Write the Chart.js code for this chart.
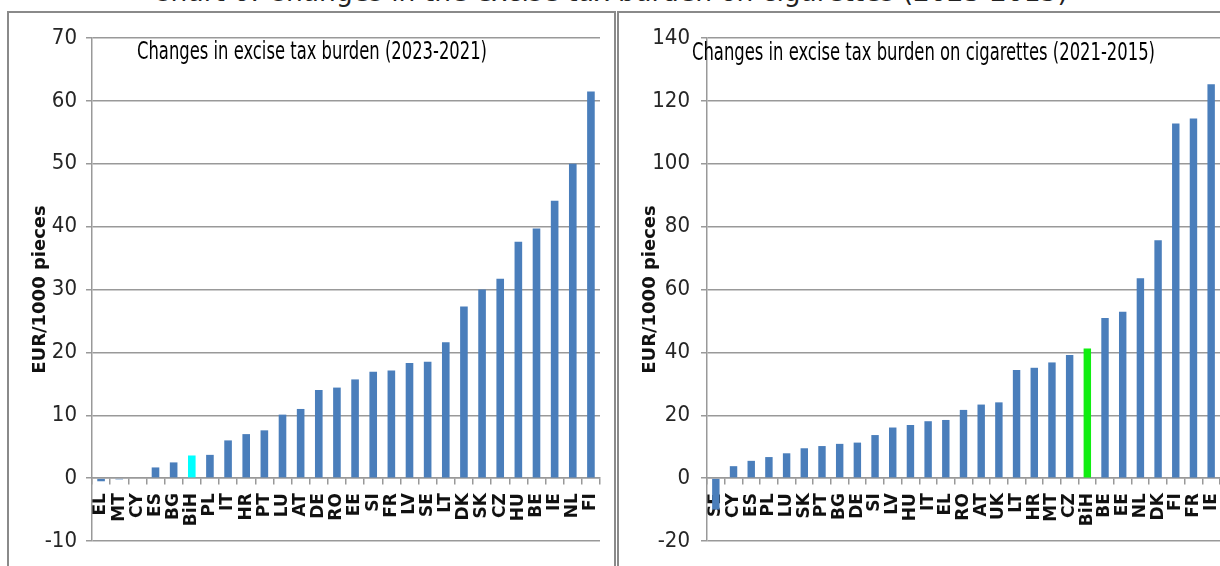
<!DOCTYPE html>
<html lang="en">
<head>
<meta charset="UTF-8">
<title>Chart 6: Changes in the excise tax burden on cigarettes</title>
<script src="https://cdn.jsdelivr.net/npm/chart.js"></script>
<style>
	body { margin: 0; width: 1220px; height: 566px; overflow: hidden; background: #fff; position: relative; }
	#pageTitle { position: absolute; left: 0; top: -21px; width: 1220px; text-align: center; font: 26.5px/26.5px "DejaVu Sans", Verdana, sans-serif; color: #222; white-space: nowrap; }
	.box { position: absolute; top: 11px; height: 570px; border: 2px solid #8a8a8a; overflow: hidden; }
	#leftBox { left: 7px; width: 605px; }
	#rightBox { left: 617px; width: 610px; }
	canvas { position: absolute; left: 0; top: 0; }
</style>
</head>
<body>
	<div id="pageTitle">Chart 6: Changes in the excise tax burden on cigarettes (2023-2015)</div>
	<div class="box" id="leftBox"><canvas id="leftChart" width="605" height="553"></canvas></div>
	<div class="box" id="rightBox"><canvas id="rightChart" width="605" height="553"></canvas></div>

	<script>
		// left panel: 2023-2021
		const leftLabels = ['EL','MT','CY','ES','BG','BiH','PL','IT','HR','PT','LU','AT','DE','RO','EE','SI','FR','LV','SE','LT','DK','SK','CZ','HU','BE','IE','NL','FI'];
		const leftValues = [-0.5,-0.2,0,1.7,2.5,3.6,3.7,6.0,7.0,7.6,10.1,11.0,14.0,14.4,15.7,16.9,17.1,18.3,18.5,21.6,27.3,30.0,31.7,37.6,39.7,44.1,50.0,61.5];
		const leftTitle = 'Changes in excise tax burden (2023-2021)';

		// right panel: 2021-2015
		const rightLabels = ['SE','CY','ES','PL','LU','SK','PT','BG','DE','SI','LV','HU','IT','EL','RO','AT','UK','LT','HR','MT','CZ','BiH','BE','EE','NL','DK','FI','FR','IE'];
		const rightValues = [-10,3.8,5.5,6.7,7.9,9.5,10.2,10.9,11.3,13.7,16.1,16.9,18.1,18.5,21.7,23.4,24.1,34.4,35.1,36.8,39.2,41.2,50.9,52.9,63.6,75.7,112.8,114.4,125.3];
		const rightTitle = 'Changes in excise tax burden on cigarettes (2021-2015)';

		const yTitle = 'EUR/1000 pieces';

		const blue = '#4a7ebb';
		const gridColor = '#999999';
		const narrow = '"DejaVu Sans Condensed", "DejaVu Sans", sans-serif';

		// title drawn inside the plot area, squeezed like the narrow original font
		const innerTitle = {
			id: 'innerTitle',
			afterDraw(chart, args, opts) {
				const ctx = chart.ctx;
				const area = chart.chartArea;
				ctx.save();
				ctx.font = '24px ' + narrow;
				ctx.fillStyle = '#000';
				ctx.textBaseline = 'alphabetic';
				const sx = opts.w / ctx.measureText(opts.text).width;
				ctx.translate(area.left + opts.dx, area.top + opts.dy);
				ctx.scale(sx, 1);
				ctx.fillText(opts.text, 0, 0);
				ctx.restore();
			}
		};

		function makeChart(id, labels, values, hiColor, yMin, yMax, step, title, s) {
			new Chart(document.getElementById(id), {
				type: 'bar',
				data: {
					labels: labels,
					datasets: [{
						data: values,
						backgroundColor: labels.map(l => l === 'BiH' ? hiColor : blue),
						borderWidth: 0,
						barPercentage: s.bar,
						categoryPercentage: 1
					}]
				},
				options: {
					responsive: false,
					animation: false,
					layout: { padding: { left: 17, right: s.padRight, top: 25, bottom: 25 } },
					plugins: {
						legend: { display: false },
						tooltip: { enabled: false },
						innerTitle: { text: title, dx: s.dx, dy: s.dy, w: s.titleW }
					},
					scales: {
						x: {
							position: { y: 0 },
							afterFit: scale => { scale.paddingLeft = 0; scale.paddingRight = 0; },
							grid: { drawOnChartArea: false, tickLength: 6, color: gridColor, lineWidth: 1.5 },
							border: { color: gridColor, width: 1.5 },
							ticks: {
								minRotation: 90, maxRotation: 90, autoSkip: false, padding: 9,
								color: '#111',
								font: { family: '"DejaVu Sans", Verdana, sans-serif', size: 17, weight: 'bold' }
							}
						},
						y: {
							min: yMin, max: yMax,
							afterFit: scale => { scale.width = s.axisW; },
							grid: { color: gridColor, lineWidth: 1.5, tickLength: 6 },
							border: { color: gridColor, width: 1.5 },
							ticks: { stepSize: step, padding: s.tickPad, color: '#262626', font: { family: narrow, size: 22 } },
							title: {
								display: true, text: yTitle, color: '#111',
								font: { family: '"DejaVu Sans", Verdana, sans-serif', size: 18, weight: 'bold' }
							}
						}
					}
				},
				plugins: [innerTitle]
			});
		}

		makeChart('leftChart', leftLabels, leftValues, '#00ffff', -10, 70, 10, leftTitle,
			{ bar: 0.42, padRight: 14, axisW: 66, tickPad: 9, dx: 45, dy: 21, titleW: 350 });
		makeChart('rightChart', rightLabels, rightValues, '#11ee11', -20, 140, 20, rightTitle,
			{ bar: 0.42, padRight: 4, axisW: 71, tickPad: 11, dx: -15, dy: 22, titleW: 463 });
	</script>
</body>
</html>
